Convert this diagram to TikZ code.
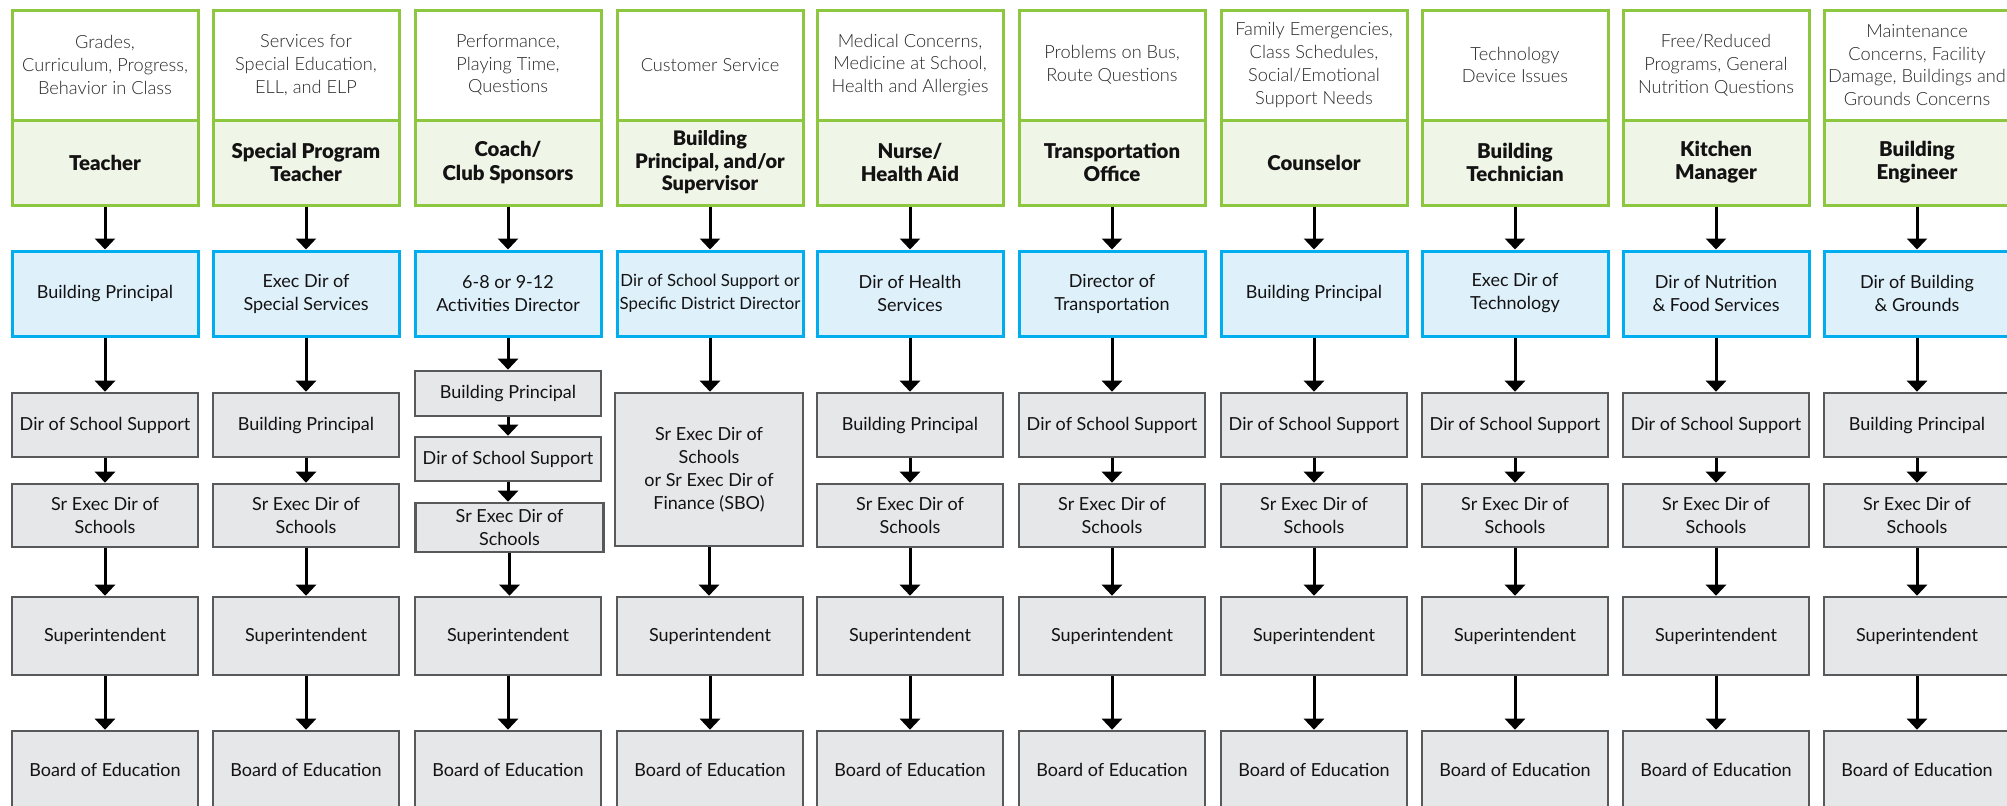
\documentclass[tikz,border=0pt]{standalone}
\usepackage{fontspec}
\setmainfont{Lato}
\newfontfamily\lightfont{Lato Light}
\newfontfamily\heavyfont{Lato Black}
\usetikzlibrary{arrows.meta}
\definecolor{gborder}{RGB}{141,198,63}
\definecolor{gfill}{RGB}{239,245,231}
\definecolor{bborder}{RGB}{0,174,239}
\definecolor{bfill}{RGB}{222,241,251}
\definecolor{grfill}{RGB}{230,231,232}
\definecolor{grborder}{RGB}{88,89,91}
\definecolor{toptext}{RGB}{40,40,42}
\definecolor{txt}{RGB}{20,18,19}
\begin{document}
\begin{tikzpicture}[x=0.5pt,y=-0.5pt,
 box/.style={draw, line width=1.5pt, align=center, inner sep=0pt, minimum width=93pt, text=txt, font=\fontsize{9}{11.5}\selectfont},
 topicbox/.style={box, draw=gborder, fill=white, minimum height=55pt, text=toptext, font=\lightfont\fontsize{9.1}{11.4}\selectfont},
 rolebox/.style={box, draw=gborder, fill=gfill, minimum height=42.5pt, font=\heavyfont\fontsize{10.2}{11.6}\selectfont},
 bluebox/.style={box, draw=bborder, fill=bfill, minimum height=42.5pt},
 graybox/.style={box, draw=grborder, fill=grfill, line width=1.3pt},
 rowa/.style={graybox, minimum height=32pt},
 rowb/.style={graybox, minimum height=31.5pt},
 link/.style={line width=1.5pt, -{Triangle[width=10pt,length=5.5pt]}},
]
\useasboundingbox (0,0) rectangle (2007,805);

% topic boxes
\node[topicbox] (t1) at (105,65) {Grades,\\Curriculum, Progress,\\Behavior in Class};
\node[topicbox] (t2) at (306,65) {Services for\\Special Education,\\ELL, and ELP};
\node[topicbox] (t3) at (508,65) {Performance,\\Playing Time,\\Questions};
\node[topicbox] (t4) at (710,65) {Customer Service};
\node[topicbox] (t5) at (910,65) {Medical Concerns,\\Medicine at School,\\Health and Allergies};
\node[topicbox] (t6) at (1112,65) {Problems on Bus,\\Route Questions};
\node[topicbox] (t7) at (1314,65) {Family Emergencies,\\Class Schedules,\\Social/Emotional\\Support Needs};
\node[topicbox] (t8) at (1515,65) {Technology\\Device Issues};
\node[topicbox] (t9) at (1716,65) {Free/Reduced\\Programs, General\\Nutrition Questions};
\node[topicbox] (t10) at (1917,65) {Maintenance\\Concerns, Facility\\Damage, Buildings and\\Grounds Concerns};

% role boxes
\node[rolebox] (r1) at (105,162.5) {Teacher};
\node[rolebox] (r2) at (306,162.5) {Special Program\\Teacher};
\node[rolebox] (r3) at (508,162.5) {Coach/\\Club Sponsors};
\node[rolebox, font=\heavyfont\fontsize{10}{11.3}\selectfont] (r4) at (710,162.5) {Building\\Principal, and/or\\Supervisor};
\node[rolebox] (r5) at (910,162.5) {Nurse/\\Health Aid};
\node[rolebox] (r6) at (1112,162.5) {Transportation\\Office};
\node[rolebox] (r7) at (1314,162.5) {Counselor};
\node[rolebox] (r8) at (1515,162.5) {Building\\Technician};
\node[rolebox] (r9) at (1716,162.5) {Kitchen\\Manager};
\node[rolebox] (r10) at (1917,162.5) {Building\\Engineer};

% blue boxes
\node[bluebox] (b1) at (105,293.5) {Building Principal};
\node[bluebox] (b2) at (306,293.5) {Exec Dir of\\Special Services};
\node[bluebox] (b3) at (508,293.5) {6-8 or 9-12\\Activities Director};
\node[bluebox, font=\fontsize{8.4}{11.5}\selectfont] (b4) at (710,293.5) {Dir of School Support or\\Specific District Director};
\node[bluebox] (b5) at (910,293.5) {Dir of Health\\Services};
\node[bluebox] (b6) at (1112,293.5) {Director of\\Transportation};
\node[bluebox] (b7) at (1314,293.5) {Building Principal};
\node[bluebox] (b8) at (1515,293.5) {Exec Dir of\\Technology};
\node[bluebox] (b9) at (1716,293.5) {Dir of Nutrition\\\& Food Services};
\node[bluebox] (b10) at (1917,293.5) {Dir of Building\\\& Grounds};

% first gray row
\node[rowa] (a1) at (105,425) {Dir of School Support};
\node[rowa] (a2) at (306,425) {Building Principal};
\node[rowa] (a5) at (910,425) {Building Principal};
\node[rowa] (a6) at (1112,425) {Dir of School Support};
\node[rowa] (a7) at (1314,425) {Dir of School Support};
\node[rowa] (a8) at (1515,425) {Dir of School Support};
\node[rowa] (a9) at (1716,425) {Dir of School Support};
\node[rowa] (a10) at (1917,425) {Building Principal};

% second gray row
\node[rowb] (s1) at (105,515.5) {Sr Exec Dir of\\Schools};
\node[rowb] (s2) at (306,515.5) {Sr Exec Dir of\\Schools};
\node[rowb] (s5) at (910,515.5) {Sr Exec Dir of\\Schools};
\node[rowb] (s6) at (1112,515.5) {Sr Exec Dir of\\Schools};
\node[rowb] (s7) at (1314,515.5) {Sr Exec Dir of\\Schools};
\node[rowb] (s8) at (1515,515.5) {Sr Exec Dir of\\Schools};
\node[rowb] (s9) at (1716,515.5) {Sr Exec Dir of\\Schools};
\node[rowb] (s10) at (1917,515.5) {Sr Exec Dir of\\Schools};

% column 3 chain
\node[graybox, minimum height=22.5pt] (p3) at (508,393.5) {Building Principal};
\node[graybox, minimum height=22pt] (a3) at (508,459) {Dir of School Support};
\node[graybox, minimum height=24.5pt, minimum width=94pt] (s3) at (509.5,527.5) {Sr Exec Dir of\\Schools};

% column 4 big box
\node[graybox, minimum height=76.5pt, minimum width=94pt] (s4) at (709,469.5) {Sr Exec Dir of\\Schools\\or Sr Exec Dir of\\Finance (SBO)};

% superintendent and board
\foreach \i/\x in {1/105,2/306,3/508,4/710,5/910,6/1112,7/1314,8/1515,9/1716,10/1917}{
  \node[graybox, minimum height=39pt] (u\i) at (\x,636) {Superintendent};
  \node[graybox, minimum height=39pt] (e\i) at (\x,770) {Board of Education};
  \draw[link] (r\i.south) -- (b\i.north);
  \draw[link] (s\i.south) -- (s\i.south |- u\i.north);
  \draw[link] (u\i.south) -- (e\i.north);
}

% links for standard columns
\foreach \i in {1,2,5,6,7,8,9,10}{
  \draw[link] (b\i.south) -- (a\i.north);
  \draw[link] (a\i.south) -- (s\i.north);
}
\draw[link] (b3.south) -- (p3.north);
\draw[link] (p3.south) -- (a3.north);
\draw[link] (a3.south) -- (a3.south |- s3.north);
\draw[link] (b4.south) -- (b4.south |- s4.north);
\end{tikzpicture}
\end{document}
